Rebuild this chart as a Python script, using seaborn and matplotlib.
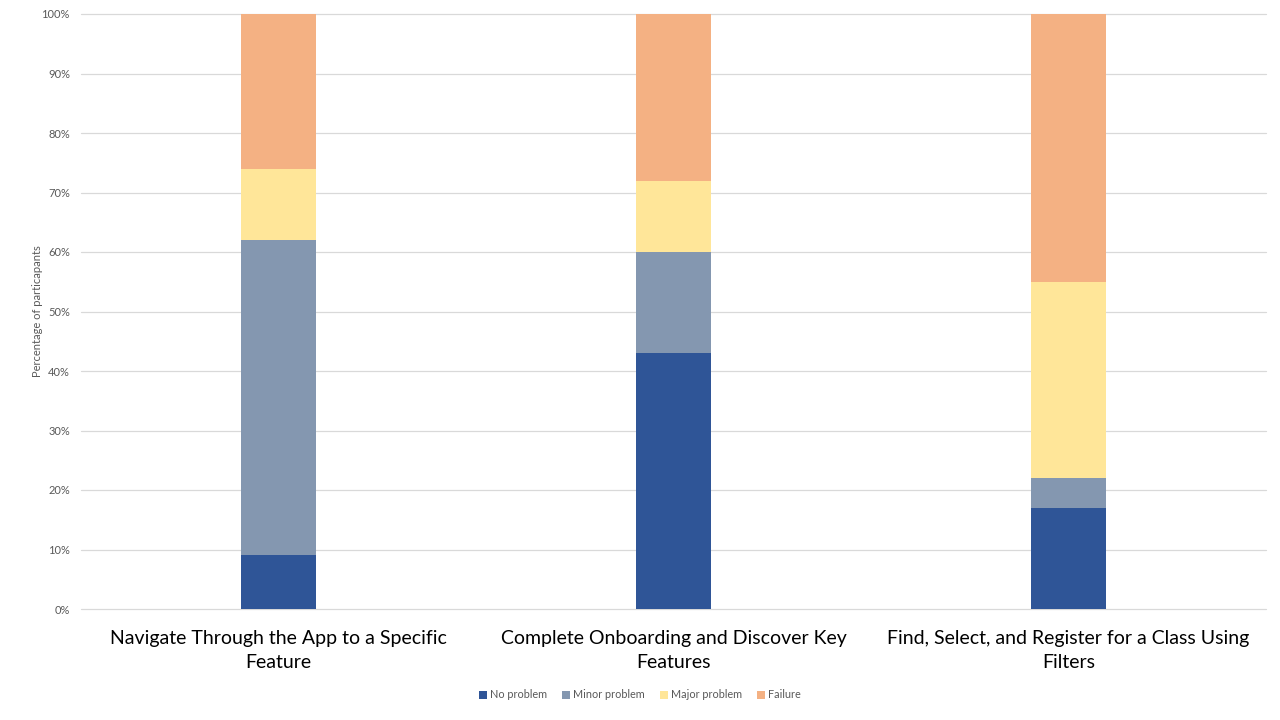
import matplotlib
matplotlib.use("Agg")
import matplotlib.pyplot as plt
import seaborn as sns
import pandas as pd
import numpy as np
from matplotlib.patches import Patch

tasks = ["Navigate Through the App to a Specific\nFeature",
         "Complete Onboarding and Discover Key\nFeatures",
         "Find, Select, and Register for a Class Using\nFilters"]
series = ["No problem", "Minor problem", "Major problem", "Failure"]
no_problem = [9, 43, 17]
minor_problem = [53, 17, 5]
major_problem = [12, 12, 33]
failure = [26, 28, 45]
colors = ["#2F5597", "#8497B0", "#FFE699", "#F4B183"]
yticks = [0, 10, 20, 30, 40, 50, 60, 70, 80, 90, 100]

sns.set_theme(style="white")
plt.rcParams['font.family'] = ['Lato', 'DejaVu Sans']

values = [no_problem, minor_problem, major_problem, failure]
cum = np.cumsum(np.array(values), axis=0)

fig = plt.figure(figsize=(12.8, 7.2), dpi=100)
ax = fig.add_axes([81/1280, 1 - 609/720, 1185/1280, (609-14)/720])

for i in range(len(series) - 1, -1, -1):
    df = pd.DataFrame({"task": tasks, "value": cum[i]})
    sns.barplot(data=df, x="task", y="value", color=colors[i], width=0.19,
                saturation=1, ax=ax, zorder=3, linewidth=0)

ax.set_ylim(0, 100)
ax.set_xlim(-0.5, 2.5)
ax.set_yticks(yticks)
ax.set_yticklabels([f"{t}%" for t in yticks], fontsize=8, color="#595959")
ax.tick_params(axis="y", length=0, pad=8)
ax.tick_params(axis="x", length=0, pad=15, labelcolor="#000000")
for lab in ax.get_xticklabels():
    lab.set_fontsize(14)
    lab.set_linespacing(1.5)
ax.grid(axis="y", color="#D9D9D9", linewidth=0.9, zorder=0)
for gl in ax.get_ygridlines():
    gl.set_clip_on(False)
ax.set_axisbelow(True)
for s in ax.spines.values():
    s.set_visible(False)
ax.set_xlabel("")
ax.set_ylabel("Percentage of particapants", fontsize=8, color="#595959", labelpad=-1)

handles = [Patch(facecolor=c, edgecolor="none", label=s) for c, s in zip(colors, series)]
fig.legend(handles=handles, loc="center", bbox_to_anchor=(0.5, 1 - 695/720), ncol=4,
           frameon=False, fontsize=7.8, handlelength=0.7, handleheight=0.7,
           handletextpad=0.3, columnspacing=1.4, labelcolor="#595959")

fig.savefig("out.png", dpi=100)
